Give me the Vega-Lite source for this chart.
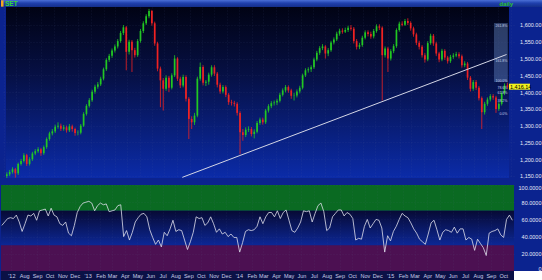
{
"$schema":"https://vega.github.io/schema/vega-lite/v6.json",
"background":"#0b238f",
"padding":0,
"bounds":"flush",
"spacing":0,
"config":{"view":{"stroke":null},"font":"Liberation Sans","axis":{"labelOverlap":false}},
"datasets":{
"w":[
{"d":"2012-06-08","o":1150,"h":1161,"l":1144,"c":1155,"r":53},
{"d":"2012-06-15","o":1155,"h":1168,"l":1150,"c":1162,"r":57},
{"d":"2012-06-22","o":1162,"h":1176,"l":1157,"c":1170,"r":61},
{"d":"2012-06-29","o":1170,"h":1174,"l":1145,"c":1158,"r":62},
{"d":"2012-07-06","o":1158,"h":1190,"l":1153,"c":1186,"r":61},
{"d":"2012-07-13","o":1186,"h":1201,"l":1181,"c":1195,"r":65},
{"d":"2012-07-20","o":1195,"h":1218,"l":1190,"c":1212,"r":57},
{"d":"2012-07-27","o":1212,"h":1216,"l":1180,"c":1186,"r":46},
{"d":"2012-08-03","o":1186,"h":1206,"l":1181,"c":1200,"r":55},
{"d":"2012-08-10","o":1200,"h":1222,"l":1195,"c":1217,"r":65},
{"d":"2012-08-17","o":1217,"h":1230,"l":1212,"c":1224,"r":64},
{"d":"2012-08-24","o":1224,"h":1236,"l":1219,"c":1230,"r":67},
{"d":"2012-08-31","o":1230,"h":1234,"l":1210,"c":1218,"r":59},
{"d":"2012-09-07","o":1218,"h":1241,"l":1213,"c":1236,"r":70},
{"d":"2012-09-14","o":1236,"h":1265,"l":1231,"c":1260,"r":71},
{"d":"2012-09-21","o":1260,"h":1282,"l":1255,"c":1277,"r":72},
{"d":"2012-09-28","o":1277,"h":1290,"l":1271,"c":1283,"r":64},
{"d":"2012-10-05","o":1283,"h":1303,"l":1278,"c":1297,"r":73},
{"d":"2012-10-12","o":1297,"h":1310,"l":1291,"c":1300,"r":65},
{"d":"2012-10-19","o":1300,"h":1306,"l":1284,"c":1291,"r":63},
{"d":"2012-10-26","o":1291,"h":1302,"l":1285,"c":1295,"r":55},
{"d":"2012-11-02","o":1295,"h":1300,"l":1279,"c":1286,"r":53},
{"d":"2012-11-09","o":1286,"h":1305,"l":1281,"c":1298,"r":57},
{"d":"2012-11-16","o":1298,"h":1303,"l":1282,"c":1290,"r":44},
{"d":"2012-11-23","o":1290,"h":1294,"l":1270,"c":1278,"r":41},
{"d":"2012-11-30","o":1278,"h":1286,"l":1271,"c":1279,"r":53},
{"d":"2012-12-07","o":1279,"h":1305,"l":1274,"c":1300,"r":68},
{"d":"2012-12-14","o":1300,"h":1340,"l":1296,"c":1335,"r":75},
{"d":"2012-12-21","o":1335,"h":1364,"l":1330,"c":1359,"r":79},
{"d":"2012-12-28","o":1359,"h":1382,"l":1354,"c":1376,"r":80},
{"d":"2013-01-04","o":1376,"h":1407,"l":1371,"c":1401,"r":81},
{"d":"2013-01-11","o":1401,"h":1422,"l":1395,"c":1416,"r":79},
{"d":"2013-01-18","o":1416,"h":1430,"l":1410,"c":1423,"r":70},
{"d":"2013-01-25","o":1423,"h":1446,"l":1418,"c":1440,"r":76},
{"d":"2013-02-01","o":1440,"h":1473,"l":1435,"c":1468,"r":79},
{"d":"2013-02-08","o":1468,"h":1501,"l":1463,"c":1496,"r":77},
{"d":"2013-02-15","o":1496,"h":1514,"l":1490,"c":1508,"r":78},
{"d":"2013-02-22","o":1508,"h":1530,"l":1502,"c":1524,"r":69},
{"d":"2013-03-01","o":1524,"h":1542,"l":1518,"c":1536,"r":70},
{"d":"2013-03-08","o":1536,"h":1558,"l":1530,"c":1552,"r":71},
{"d":"2013-03-15","o":1552,"h":1582,"l":1547,"c":1576,"r":76},
{"d":"2013-03-22","o":1576,"h":1600,"l":1570,"c":1593,"r":77},
{"d":"2013-03-29","o":1593,"h":1597,"l":1465,"c":1520,"r":40},
{"d":"2013-04-05","o":1520,"h":1556,"l":1512,"c":1550,"r":47},
{"d":"2013-04-12","o":1550,"h":1555,"l":1460,"c":1525,"r":36},
{"d":"2013-04-19","o":1525,"h":1532,"l":1503,"c":1510,"r":45},
{"d":"2013-04-26","o":1510,"h":1558,"l":1505,"c":1552,"r":57},
{"d":"2013-05-03","o":1552,"h":1588,"l":1547,"c":1582,"r":62},
{"d":"2013-05-10","o":1582,"h":1611,"l":1576,"c":1605,"r":66},
{"d":"2013-05-17","o":1605,"h":1632,"l":1600,"c":1626,"r":67},
{"d":"2013-05-24","o":1626,"h":1648,"l":1620,"c":1642,"r":63},
{"d":"2013-05-31","o":1642,"h":1645,"l":1598,"c":1605,"r":48},
{"d":"2013-06-07","o":1605,"h":1610,"l":1538,"c":1545,"r":39},
{"d":"2013-06-14","o":1545,"h":1550,"l":1462,"c":1470,"r":31},
{"d":"2013-06-21","o":1470,"h":1476,"l":1355,"c":1435,"r":36},
{"d":"2013-06-28","o":1435,"h":1442,"l":1345,"c":1410,"r":28},
{"d":"2013-07-05","o":1410,"h":1450,"l":1404,"c":1443,"r":45},
{"d":"2013-07-12","o":1443,"h":1448,"l":1400,"c":1413,"r":41},
{"d":"2013-07-19","o":1413,"h":1456,"l":1408,"c":1450,"r":49},
{"d":"2013-07-26","o":1450,"h":1510,"l":1445,"c":1500,"r":59},
{"d":"2013-08-02","o":1500,"h":1504,"l":1433,"c":1440,"r":46},
{"d":"2013-08-09","o":1440,"h":1446,"l":1412,"c":1420,"r":48},
{"d":"2013-08-16","o":1420,"h":1452,"l":1414,"c":1445,"r":47},
{"d":"2013-08-23","o":1445,"h":1450,"l":1372,"c":1380,"r":36},
{"d":"2013-08-30","o":1380,"h":1385,"l":1260,"c":1320,"r":25},
{"d":"2013-09-06","o":1320,"h":1328,"l":1290,"c":1310,"r":34},
{"d":"2013-09-13","o":1310,"h":1338,"l":1302,"c":1330,"r":45},
{"d":"2013-09-20","o":1330,"h":1446,"l":1325,"c":1440,"r":63},
{"d":"2013-09-27","o":1440,"h":1488,"l":1434,"c":1475,"r":61},
{"d":"2013-10-04","o":1475,"h":1480,"l":1420,"c":1428,"r":62},
{"d":"2013-10-11","o":1428,"h":1436,"l":1418,"c":1431,"r":53},
{"d":"2013-10-18","o":1431,"h":1458,"l":1422,"c":1452,"r":56},
{"d":"2013-10-25","o":1452,"h":1480,"l":1446,"c":1474,"r":63},
{"d":"2013-11-01","o":1474,"h":1480,"l":1448,"c":1455,"r":55},
{"d":"2013-11-08","o":1455,"h":1460,"l":1414,"c":1422,"r":45},
{"d":"2013-11-15","o":1422,"h":1428,"l":1395,"c":1402,"r":49},
{"d":"2013-11-22","o":1402,"h":1421,"l":1396,"c":1415,"r":43},
{"d":"2013-11-29","o":1415,"h":1420,"l":1385,"c":1392,"r":45},
{"d":"2013-12-06","o":1392,"h":1397,"l":1362,"c":1370,"r":40},
{"d":"2013-12-13","o":1370,"h":1377,"l":1360,"c":1368,"r":43},
{"d":"2013-12-20","o":1368,"h":1374,"l":1357,"c":1365,"r":39},
{"d":"2013-12-27","o":1365,"h":1370,"l":1330,"c":1338,"r":39},
{"d":"2014-01-03","o":1338,"h":1343,"l":1215,"c":1280,"r":22},
{"d":"2014-01-10","o":1280,"h":1290,"l":1255,"c":1272,"r":33},
{"d":"2014-01-17","o":1272,"h":1295,"l":1266,"c":1288,"r":46},
{"d":"2014-01-24","o":1288,"h":1298,"l":1281,"c":1290,"r":48},
{"d":"2014-01-31","o":1290,"h":1296,"l":1268,"c":1275,"r":47},
{"d":"2014-02-07","o":1275,"h":1289,"l":1262,"c":1282,"r":48},
{"d":"2014-02-14","o":1282,"h":1314,"l":1277,"c":1308,"r":52},
{"d":"2014-02-21","o":1308,"h":1324,"l":1302,"c":1318,"r":63},
{"d":"2014-02-28","o":1318,"h":1324,"l":1303,"c":1310,"r":55},
{"d":"2014-03-07","o":1310,"h":1350,"l":1305,"c":1345,"r":63},
{"d":"2014-03-14","o":1345,"h":1364,"l":1339,"c":1358,"r":68},
{"d":"2014-03-21","o":1358,"h":1373,"l":1352,"c":1367,"r":68},
{"d":"2014-03-28","o":1367,"h":1375,"l":1360,"c":1369,"r":63},
{"d":"2014-04-04","o":1369,"h":1380,"l":1361,"c":1374,"r":70},
{"d":"2014-04-11","o":1374,"h":1398,"l":1369,"c":1392,"r":61},
{"d":"2014-04-18","o":1392,"h":1411,"l":1387,"c":1405,"r":68},
{"d":"2014-04-25","o":1405,"h":1421,"l":1399,"c":1415,"r":71},
{"d":"2014-05-02","o":1415,"h":1420,"l":1398,"c":1405,"r":59},
{"d":"2014-05-09","o":1405,"h":1410,"l":1380,"c":1389,"r":47},
{"d":"2014-05-16","o":1389,"h":1398,"l":1375,"c":1390,"r":45},
{"d":"2014-05-23","o":1390,"h":1408,"l":1384,"c":1402,"r":50},
{"d":"2014-05-30","o":1402,"h":1419,"l":1396,"c":1413,"r":57},
{"d":"2014-06-06","o":1413,"h":1455,"l":1408,"c":1450,"r":70},
{"d":"2014-06-13","o":1450,"h":1471,"l":1445,"c":1465,"r":69},
{"d":"2014-06-20","o":1465,"h":1474,"l":1458,"c":1468,"r":70},
{"d":"2014-06-27","o":1468,"h":1480,"l":1460,"c":1474,"r":57},
{"d":"2014-07-04","o":1474,"h":1503,"l":1469,"c":1497,"r":67},
{"d":"2014-07-11","o":1497,"h":1523,"l":1492,"c":1517,"r":76},
{"d":"2014-07-18","o":1517,"h":1537,"l":1511,"c":1531,"r":79},
{"d":"2014-07-25","o":1531,"h":1543,"l":1525,"c":1536,"r":69},
{"d":"2014-08-01","o":1536,"h":1540,"l":1500,"c":1515,"r":47},
{"d":"2014-08-08","o":1515,"h":1531,"l":1507,"c":1525,"r":50},
{"d":"2014-08-15","o":1525,"h":1553,"l":1520,"c":1548,"r":63},
{"d":"2014-08-22","o":1548,"h":1563,"l":1542,"c":1557,"r":67},
{"d":"2014-08-29","o":1557,"h":1580,"l":1552,"c":1574,"r":71},
{"d":"2014-09-05","o":1574,"h":1589,"l":1568,"c":1583,"r":71},
{"d":"2014-09-12","o":1583,"h":1590,"l":1574,"c":1580,"r":64},
{"d":"2014-09-19","o":1580,"h":1592,"l":1576,"c":1585,"r":68},
{"d":"2014-09-26","o":1585,"h":1598,"l":1579,"c":1592,"r":66},
{"d":"2014-10-03","o":1592,"h":1600,"l":1583,"c":1589,"r":61},
{"d":"2014-10-10","o":1589,"h":1594,"l":1545,"c":1552,"r":36},
{"d":"2014-10-17","o":1552,"h":1558,"l":1527,"c":1535,"r":38},
{"d":"2014-10-24","o":1535,"h":1547,"l":1528,"c":1540,"r":37},
{"d":"2014-10-31","o":1540,"h":1568,"l":1535,"c":1562,"r":52},
{"d":"2014-11-07","o":1562,"h":1584,"l":1557,"c":1578,"r":60},
{"d":"2014-11-14","o":1578,"h":1584,"l":1566,"c":1573,"r":50},
{"d":"2014-11-21","o":1573,"h":1580,"l":1559,"c":1566,"r":55},
{"d":"2014-11-28","o":1566,"h":1588,"l":1560,"c":1582,"r":60},
{"d":"2014-12-05","o":1582,"h":1602,"l":1577,"c":1596,"r":59},
{"d":"2014-12-12","o":1596,"h":1602,"l":1585,"c":1592,"r":50},
{"d":"2014-12-19","o":1592,"h":1596,"l":1375,"c":1510,"r":22},
{"d":"2014-12-26","o":1510,"h":1536,"l":1503,"c":1530,"r":41},
{"d":"2015-01-02","o":1530,"h":1535,"l":1460,"c":1500,"r":35},
{"d":"2015-01-09","o":1500,"h":1528,"l":1494,"c":1522,"r":46},
{"d":"2015-01-16","o":1522,"h":1543,"l":1516,"c":1537,"r":52},
{"d":"2015-01-23","o":1537,"h":1590,"l":1532,"c":1585,"r":60},
{"d":"2015-01-30","o":1585,"h":1610,"l":1580,"c":1604,"r":67},
{"d":"2015-02-06","o":1604,"h":1611,"l":1596,"c":1601,"r":64},
{"d":"2015-02-13","o":1601,"h":1618,"l":1597,"c":1612,"r":62},
{"d":"2015-02-20","o":1612,"h":1620,"l":1600,"c":1606,"r":56},
{"d":"2015-02-27","o":1606,"h":1611,"l":1583,"c":1590,"r":49},
{"d":"2015-03-06","o":1590,"h":1595,"l":1565,"c":1572,"r":44},
{"d":"2015-03-13","o":1572,"h":1577,"l":1540,"c":1547,"r":37},
{"d":"2015-03-20","o":1547,"h":1553,"l":1527,"c":1535,"r":34},
{"d":"2015-03-27","o":1535,"h":1540,"l":1503,"c":1510,"r":31},
{"d":"2015-04-03","o":1510,"h":1516,"l":1488,"c":1497,"r":43},
{"d":"2015-04-10","o":1497,"h":1552,"l":1492,"c":1546,"r":56},
{"d":"2015-04-17","o":1546,"h":1574,"l":1541,"c":1568,"r":59},
{"d":"2015-04-24","o":1568,"h":1573,"l":1538,"c":1545,"r":48},
{"d":"2015-05-01","o":1545,"h":1550,"l":1508,"c":1515,"r":36},
{"d":"2015-05-08","o":1515,"h":1520,"l":1489,"c":1497,"r":45},
{"d":"2015-05-15","o":1497,"h":1529,"l":1492,"c":1523,"r":48},
{"d":"2015-05-22","o":1523,"h":1528,"l":1496,"c":1503,"r":47},
{"d":"2015-05-29","o":1503,"h":1508,"l":1485,"c":1492,"r":45},
{"d":"2015-06-05","o":1492,"h":1511,"l":1487,"c":1505,"r":51},
{"d":"2015-06-12","o":1505,"h":1516,"l":1499,"c":1509,"r":44},
{"d":"2015-06-19","o":1509,"h":1520,"l":1504,"c":1513,"r":49},
{"d":"2015-06-26","o":1513,"h":1519,"l":1500,"c":1507,"r":49},
{"d":"2015-07-03","o":1507,"h":1512,"l":1473,"c":1480,"r":36},
{"d":"2015-07-10","o":1480,"h":1492,"l":1474,"c":1485,"r":39},
{"d":"2015-07-17","o":1485,"h":1490,"l":1436,"c":1443,"r":37},
{"d":"2015-07-24","o":1443,"h":1448,"l":1402,"c":1410,"r":24},
{"d":"2015-07-31","o":1410,"h":1436,"l":1404,"c":1430,"r":37},
{"d":"2015-08-07","o":1430,"h":1436,"l":1406,"c":1413,"r":32},
{"d":"2015-08-14","o":1413,"h":1418,"l":1375,"c":1382,"r":27},
{"d":"2015-08-21","o":1382,"h":1387,"l":1290,"c":1340,"r":18},
{"d":"2015-08-28","o":1340,"h":1371,"l":1333,"c":1365,"r":44},
{"d":"2015-09-04","o":1365,"h":1384,"l":1359,"c":1378,"r":46},
{"d":"2015-09-11","o":1378,"h":1394,"l":1372,"c":1388,"r":47},
{"d":"2015-09-18","o":1388,"h":1394,"l":1377,"c":1384,"r":49},
{"d":"2015-09-25","o":1384,"h":1389,"l":1338,"c":1350,"r":42},
{"d":"2015-10-02","o":1350,"h":1371,"l":1344,"c":1365,"r":39},
{"d":"2015-10-09","o":1365,"h":1403,"l":1360,"c":1397,"r":60},
{"d":"2015-10-16","o":1397,"h":1426,"l":1391,"c":1420,"r":65},
{"d":"2015-10-23","o":1420,"h":1428,"l":1410,"c":1416.14,"r":59}
],
"span":[{"a":"2012-06-06","b":"2015-10-27","c":"2016-01-05"}],
"trend":[{"d":"2013-08-14","p":1146},{"d":"2015-10-21","p":1512}],
"fibbox":[{"a":"2015-09-20","b":"2015-10-24","lo":1430,"hi":1606}],
"fib":[
{"d":"2015-10-23","p":1597,"t":"261.8%"},
{"d":"2015-10-23","p":1493,"t":"161.8%"},
{"d":"2015-10-23","p":1433,"t":"100.0%"},
{"d":"2015-10-23","p":1411,"t":"78.6%"},
{"d":"2015-10-23","p":1396,"t":"61.8%"},
{"d":"2015-10-23","p":1372,"t":"38.2%"},
{"d":"2015-10-23","p":1334,"t":"0.0%"}
],
"last":[{"d":"2015-10-27","p":1416.14,"t":"1,416.14"}],
"hdr":[{"d":"2012-06-06","t":"SET"},{"d":"2015-10-27","t":"daily"}]
},
"vconcat":[
{
"width":542,"height":7,
"layer":[
{"data":{"name":"span"},
 "mark":{"type":"rect","color":{"gradient":"linear","x1":0,"y1":0,"x2":0,"y2":1,"stops":[{"offset":0,"color":"#4a6fd6"},{"offset":0.45,"color":"#1f40ad"},{"offset":1,"color":"#142e8a"}]}},
 "encoding":{"x":{"field":"a","type":"temporal","scale":{"type":"utc","domain":[{"year":2012,"month":6,"date":6,"utc":true},{"year":2016,"month":1,"date":5,"utc":true}]},"axis":null},
  "x2":{"field":"c"},
  "y":{"datum":0,"type":"quantitative","scale":{"domain":[0,1]},"axis":null},"y2":{"datum":1}}},
{"data":{"name":"hdr"},"transform":[{"filter":"datum.t == 'SET'"}],
 "mark":{"type":"rect","color":"#f5a623","x2Offset":2.5},
 "encoding":{"x":{"field":"d","type":"temporal","axis":null},"x2":{"field":"d"},
  "y":{"datum":0.05,"type":"quantitative","axis":null},"y2":{"datum":0.95}}},
{"data":{"name":"hdr"},"transform":[{"filter":"datum.t == 'SET'"}],
 "mark":{"type":"text","align":"left","baseline":"middle","dx":4,"dy":0.5,"fontSize":6.5,"fontWeight":"bold","color":"#35d935"},
 "encoding":{"x":{"field":"d","type":"temporal","axis":null},"y":{"datum":0.5,"type":"quantitative","axis":null},"text":{"field":"t"}}},
{"data":{"name":"hdr"},"transform":[{"filter":"datum.t == 'daily'"}],
 "mark":{"type":"text","align":"right","baseline":"middle","dx":-1,"dy":0.5,"fontSize":6,"fontWeight":"bold","color":"#2ac42a"},
 "encoding":{"x":{"field":"d","type":"temporal","axis":null},"y":{"datum":0.5,"type":"quantitative","axis":null},"text":{"field":"t"}}}
]
},
{
"width":513,"height":171,
"layer":[
{"data":{"name":"span"},
 "mark":{"type":"rect","color":{"gradient":"linear","x1":0,"y1":0,"x2":0,"y2":1,"stops":[{"offset":0,"color":"#010314"},{"offset":0.4,"color":"#061045"},{"offset":1,"color":"#0b2ba8"}]}},
 "encoding":{
  "x":{"field":"a","type":"temporal","scale":{"type":"utc","domain":[{"year":2012,"month":6,"date":6,"utc":true},{"year":2015,"month":10,"date":27,"utc":true}]},
   "axis":{"orient":"bottom","tickCount":{"interval":"month","step":1},"labels":false,"ticks":false,"domain":false,"grid":true,"gridColor":"#6070a8","gridOpacity":0.3,"gridDash":[1,2],"gridWidth":0.5,"title":null,"zindex":1}},
  "x2":{"field":"b"},
  "y":{"datum":1144,"type":"quantitative","scale":{"domain":[1144,1653.6],"nice":false,"zero":false},
   "axis":{"orient":"right","values":[1150,1200,1250,1300,1350,1400,1450,1500,1550,1600],"tickCount":30,"labelExpr":"format(datum.value, ',.2f')","labelAlign":"right","labelBaseline":"middle","labelPadding":27,"labelOverlap":false,"labelFontSize":5.5,"labelColor":"#e6eaf7","domain":false,"ticks":false,"grid":true,"gridColor":"#6070a8","gridOpacity":0.3,"gridDash":[1,2],"gridWidth":0.5,"title":null,"zindex":1}},
  "y2":{"datum":1653.6}}},
{"data":{"name":"fibbox"},
 "mark":{"type":"rect","color":"#7aa4e6","opacity":0.35},
 "encoding":{"x":{"field":"a","type":"temporal"},"x2":{"field":"b"},"y":{"field":"lo","type":"quantitative"},"y2":{"field":"hi"}}},
{"data":{"name":"w"},
 "mark":{"type":"rule","strokeWidth":0.8},
 "encoding":{"x":{"field":"d","type":"temporal"},"y":{"field":"l","type":"quantitative"},"y2":{"field":"h"},
  "color":{"condition":{"test":"datum.c >= datum.o","value":"#22c822"},"value":"#f02222"}}},
{"data":{"name":"w"},
 "mark":{"type":"bar","width":1.7},
 "encoding":{"x":{"field":"d","type":"temporal"},"y":{"field":"o","type":"quantitative"},"y2":{"field":"c"},
  "color":{"condition":{"test":"datum.c >= datum.o","value":"#22c822"},"value":"#f02222"}}},
{"data":{"name":"trend"},
 "mark":{"type":"line","color":"#d4d6e6","strokeWidth":1},
 "encoding":{"x":{"field":"d","type":"temporal"},"y":{"field":"p","type":"quantitative"}}},
{"data":{"name":"fib"},
 "mark":{"type":"text","align":"right","baseline":"middle","fontSize":3.5,"color":"#c8d0ea"},
 "encoding":{"x":{"field":"d","type":"temporal"},"y":{"field":"p","type":"quantitative"},"text":{"field":"t"}}},
{"data":{"name":"last"},
 "mark":{"type":"rect","color":"#f2f21c","x2Offset":21,"yOffset":-3,"y2Offset":3},
 "encoding":{"x":{"field":"d","type":"temporal"},"x2":{"field":"d"},"y":{"field":"p","type":"quantitative"},"y2":{"field":"p"}}},
{"data":{"name":"last"},
 "mark":{"type":"text","align":"left","baseline":"middle","dx":1,"fontSize":5.5,"color":"#000000"},
 "encoding":{"x":{"field":"d","type":"temporal"},"y":{"field":"p","type":"quantitative"},"text":{"field":"t"}}}
]
},
{
"width":542,"height":7,
"layer":[
{"mark":{"type":"rect","color":"#0a0f33"},
 "encoding":{"x":{"datum":0,"type":"quantitative","scale":{"domain":[0,1]},"axis":null},"x2":{"datum":1},
  "y":{"datum":0,"type":"quantitative","scale":{"domain":[0,7]},"axis":null},"y2":{"datum":7}}},
{"mark":{"type":"rect","color":"#2545b8"},
 "encoding":{"x":{"datum":0,"type":"quantitative","axis":null},"x2":{"datum":1},
  "y":{"datum":5.4,"type":"quantitative","axis":null},"y2":{"datum":7}}},
{"mark":{"type":"text","text":"%R(14, 70, 30, 1)","align":"left","baseline":"middle","dx":3,"fontSize":4.2,"color":"#e8e4c0"},
 "encoding":{"x":{"datum":0,"type":"quantitative","axis":null},"y":{"datum":2.6,"type":"quantitative","axis":null}}}
]
},
{
"width":513,"height":86,
"layer":[
{"data":{"name":"span"},
 "mark":{"type":"rect","color":"#0a6a22"},
 "encoding":{
  "x":{"field":"a","type":"temporal","scale":{"type":"utc","domain":[{"year":2012,"month":6,"date":6,"utc":true},{"year":2015,"month":10,"date":27,"utc":true}]},
   "axis":{"orient":"bottom","tickCount":{"interval":"month","step":1},"labels":false,"ticks":false,"domain":false,"grid":true,"gridColor":"#6070a8","gridOpacity":0.25,"gridDash":[1,2],"gridWidth":0.5,"title":null,"zindex":1}},
  "x2":{"field":"b"},
  "y":{"datum":70,"type":"quantitative","scale":{"domain":[0,100],"nice":false,"zero":false},
   "axis":{"orient":"right","values":[0,20,40,60,80,100],"tickCount":30,"labelExpr":"datum.value == 0 ? '0' : format(datum.value, '.4f')","labelAlign":"right","labelPadding":27,"labelFlush":true,"labelOverlap":false,"labelFontSize":5.5,"labelColor":"#e6eaf7","domain":false,"ticks":false,"grid":true,"gridColor":"#6070a8","gridOpacity":0.25,"gridDash":[1,2],"gridWidth":0.5,"title":null,"zindex":1}},
  "y2":{"datum":100}}},
{"data":{"name":"span"},
 "mark":{"type":"rect","color":{"gradient":"linear","x1":0,"y1":0,"x2":0,"y2":1,"stops":[{"offset":0,"color":"#070a35"},{"offset":1,"color":"#0c2795"}]}},
 "encoding":{"x":{"field":"a","type":"temporal"},"x2":{"field":"b"},"y":{"datum":30,"type":"quantitative"},"y2":{"datum":70}}},
{"data":{"name":"span"},
 "mark":{"type":"rect","color":"#4c1052"},
 "encoding":{"x":{"field":"a","type":"temporal"},"x2":{"field":"b"},"y":{"datum":0,"type":"quantitative"},"y2":{"datum":30}}},
{"data":{"name":"w"},
 "mark":{"type":"line","color":"#e0e0ec","strokeWidth":0.8},
 "encoding":{"x":{"field":"d","type":"temporal"},"y":{"field":"r","type":"quantitative"}}}
]
},
{
"width":542,"height":9,
"layer":[
{"data":{"name":"span"},
 "mark":{"type":"rect","color":"#0b1146"},
 "encoding":{
  "x":{"field":"a","type":"temporal","scale":{"type":"utc","domain":[{"year":2012,"month":6,"date":6,"utc":true},{"year":2016,"month":1,"date":5,"utc":true}]},
   "axis":{"orient":"bottom","offset":-9,"tickCount":{"interval":"month","step":1},
    "labelExpr":"datum.value > 1445000000000 ? '' : datum.value < 1343000000000 ? \"'12\" : utcFormat(datum.value, '%m') == '01' ? \"'\" + utcFormat(datum.value, '%y') : utcFormat(datum.value, '%b')",
    "labelFontSize":5.5,"labelColor":"#c9cde6","labelPadding":2,"labelBaseline":"top","ticks":false,"tickSize":0,"domain":false,"grid":false,"labelOverlap":false,"labelFlush":false,"labelBound":false,"title":null,"zindex":1}},
  "x2":{"field":"b"},
  "y":{"datum":0,"type":"quantitative","scale":{"domain":[0,1]},"axis":null},"y2":{"datum":1}}},
{"data":{"name":"span"},
 "mark":{"type":"rect","color":"#ffffff"},
 "encoding":{"x":{"field":"b","type":"temporal"},"x2":{"field":"c"},"y":{"datum":0,"type":"quantitative","axis":null},"y2":{"datum":1}}}
]
}
]
}
